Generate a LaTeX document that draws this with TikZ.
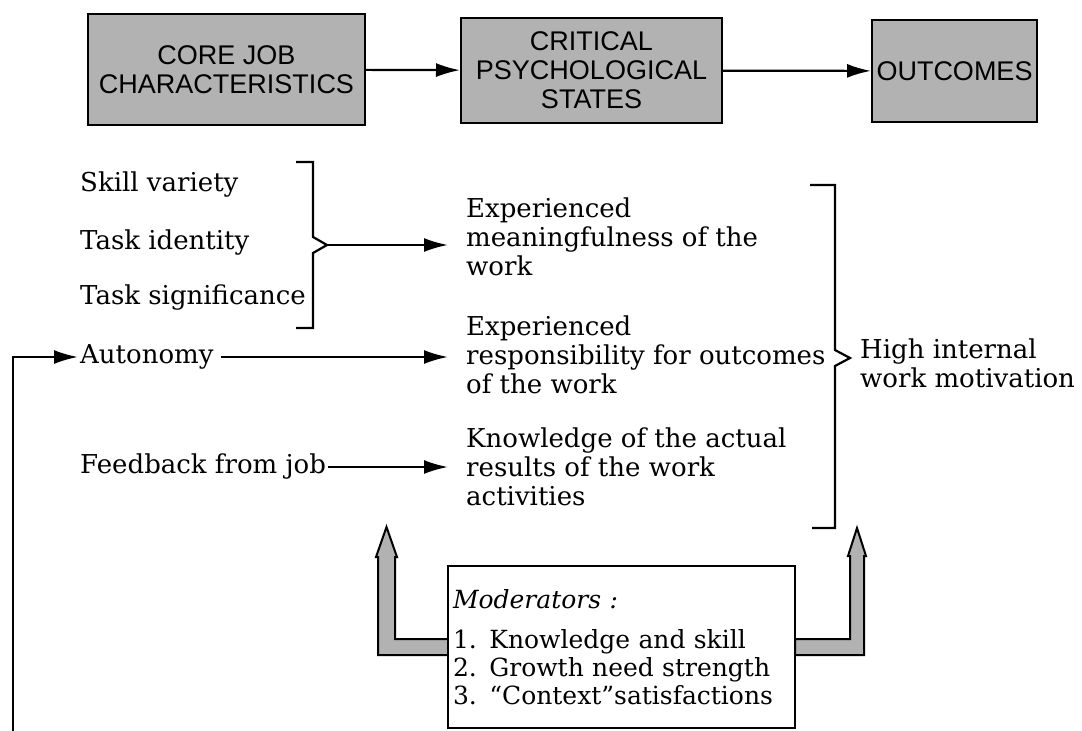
\documentclass[tikz,border=0pt]{standalone}
\usepackage{fontspec}
\setmainfont{DejaVu Serif}
\newfontfamily\headfont{Liberation Sans}
\usepackage{tikz}
\usetikzlibrary{positioning, arrows.meta, calc}

\begin{document}
\begin{tikzpicture}[x=1pt, y=-1pt,
    hdr/.style={draw, line width=2pt, fill=black!30, align=center, inner sep=0pt,
      font=\headfont\fontsize{27}{29}\selectfont},
    txt/.style={anchor=west, align=left, inner sep=0pt,
      font=\fontsize{26}{29}\selectfont},
    arr/.style={line width=2.2pt, -{Latex[length=24pt,width=14pt]}},
    brk/.style={line width=2.2pt},
    fat/.style={line width=2pt, fill=black!30, line join=miter}]
    \useasboundingbox (0,0) rectangle (1082,731);
    % header
    \node[hdr, minimum width=277pt, minimum height=111pt] (cjc) at (226.5,69.5) {CORE JOB\\CHARACTERISTICS};
    \node[hdr, minimum width=261pt, minimum height=105pt] (cps) at (591.5,70.5) {CRITICAL\\PSYCHOLOGICAL\\STATES};
    \node[hdr, minimum width=165pt, minimum height=102pt] (out) at (954.5,71) {OUTCOMES};
    \draw[arr] (cjc) -- (cps);
    \draw[arr] (cps) -- (out);
    % core job characteristics
    \node[txt] (sv) at (80,185) {Skill variety};
    \node[txt] (ti) at (80,243) {Task identity};
    \node[txt] (ts) at (80,298) {Task significance};
    \node[txt] (au) at (80,357) {Autonomy};
    \node[txt] (fb) at (80,467) {Feedback from job};
    % psychological states
    \node[txt] (mw) at (466,237) {Experienced\\meaningfulness of the\\work};
    \node[txt] (rs) at (466,355) {Experienced\\responsibility for outcomes\\of the work};
    \node[txt] (kr) at (466,467) {Knowledge of the actual\\results of the work\\activities};
    \node[txt] (hi) at (860,363) {High internal\\work motivation};
    % brackets
    \draw[brk] (296,162) -- (313,162) -- (313,237) -- (327,245) -- (313,253) -- (313,328) -- (296,328);
    \coordinate (b1) at (327,245);
    \draw[brk] (810,185) -- (835,185) -- (835,350) -- (850,358) -- (835,366) -- (835,528) -- (812,528);
    % arrows
    \draw[arr, shorten >=18pt] (b1) -- (b1 -| mw.west);
    \draw[arr, shorten <=7pt, shorten >=18pt] (au.east) -- (au.east -| rs.west);
    \draw[arr, shorten <=2pt, shorten >=18pt] (fb.east) -- (fb.east -| kr.west);
    \coordinate (lp) at (13,731);
    \draw[arr, shorten >=2pt] (lp) |- (au.west);
    % moderators
    \coordinate (mw0) at (448,647);
    \coordinate (me0) at (795,647);
    \draw[fat] ($(mw0)+(0,-8)$) -- ($(mw0)+(-53,-8)$) -- ($(mw0)+(-53,-90)$) -- ($(mw0)+(-51,-90)$)
      -- ($(mw0)+(-61.5,-120)$) -- ($(mw0)+(-72,-90)$) -- ($(mw0)+(-70,-90)$) -- ($(mw0)+(-70,8)$)
      -- ($(mw0)+(0,8)$) -- cycle;
    \draw[fat] ($(me0)+(0,-8)$) -- ($(me0)+(55,-8)$) -- ($(me0)+(55,-91)$) -- ($(me0)+(53,-91)$)
      -- ($(me0)+(62,-119)$) -- ($(me0)+(71,-91)$) -- ($(me0)+(69,-91)$) -- ($(me0)+(69,8)$)
      -- ($(me0)+(0,8)$) -- cycle;
    \node[draw, line width=2pt, fill=white, minimum width=347pt, minimum height=162pt,
      text width=337pt, align=left, inner sep=5pt, font=\fontsize{25}{28}\selectfont] (mod) at (621.5,647)
      {\textit{Moderators :}\\[12pt]1. Knowledge and skill\\2. Growth need strength\\3. “Context”satisfactions};
\end{tikzpicture}
\end{document}
